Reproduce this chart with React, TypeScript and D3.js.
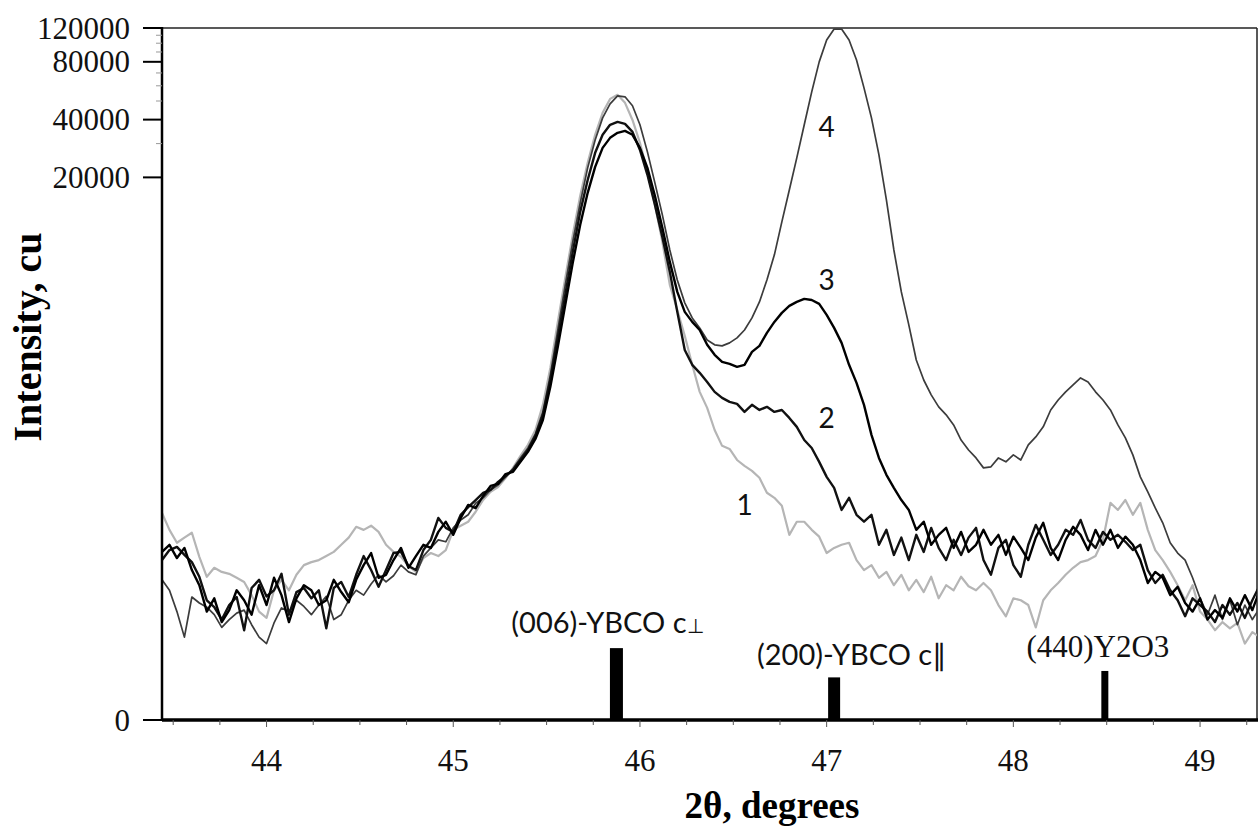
import * as d3 from "d3";

// XRD scan: 2θ starts at 43.44° with a 0.04° step
const SCAN_START = 43.44;
const SCAN_STEP = 0.04;

// intensities (counts), one value per scan step
const sample1 = [
  329, 263, 221, 237, 253, 182, 137, 156, 147, 143, 135, 127, 104, 80, 72, 112, 131, 112, 141, 162,
  169, 174, 184, 195, 215, 237, 274, 263, 278, 256, 215, 195, 182, 160, 147, 179, 192, 184, 200, 263,
  278, 293, 334, 389, 432, 460, 515,
  586, 681, 782, 940, 1281, 2012, 3513, 5974, 10031, 16028, 23814, 33337, 43393, 51285, 53865, 48924,
  39838, 30276, 21367, 14387, 9215, 5494, 4057, 2968, 2088, 1502, 1234, 940, 772,
  743, 647, 601, 564, 517, 427, 400, 361, 246, 293, 293, 263, 240, 192, 206, 215, 221, 174, 151, 162, 135,
  147, 121, 141, 112, 131, 109, 137, 99, 121, 112, 137, 119, 112, 125, 112, 89, 74, 99, 96, 89, 61, 96,
  112, 125, 141, 156, 169, 174, 184, 230, 375, 342, 389, 321, 375, 263, 200, 174, 147, 121, 96, 121, 80,
  70, 58, 67, 60, 66, 45, 56, 51,
];

const sample2 = [
  174, 200, 209, 187, 169, 137, 96, 86, 70, 89, 101, 58, 116, 131, 102, 112, 143, 76, 109, 116, 99,
  112, 60, 116, 127, 101, 141, 184, 151, 118, 151, 192, 195, 160, 151, 200, 230, 308, 270, 256, 321,
  355, 389, 426, 443, 491, 528,
  571, 647, 733, 874, 1133, 1736, 2896, 4870, 8170, 13217, 19389, 26853, 33337, 37586, 38937, 38036,
  34535, 27795, 20626, 14387, 9790, 6422, 3965, 2500, 2088, 1894, 1696, 1502, 1395,
  1329, 1297, 1175, 1281, 1203, 1250, 1175, 1203, 1091, 977, 830, 752, 632, 523, 455, 342, 400, 321,
  293, 321, 215,
  263, 187, 237, 174, 246, 195, 270, 206, 174, 230, 187, 237, 270, 174, 141, 206, 230, 162, 137, 215,
  281, 230, 187, 215, 263, 246, 300, 230, 206, 256, 230, 246, 224, 200, 215, 151, 125, 141, 112, 96,
  74, 99, 89, 80, 67, 89, 76, 92, 72, 96, 121,
];

const sample3 = [
  195, 215, 179, 206, 151, 121, 80, 99, 67, 82, 112, 96, 76, 121, 89, 135, 104, 67, 99, 121, 112, 89,
  96, 131, 109, 93, 131, 162, 192, 135, 141, 174, 206, 156, 184, 215, 206, 256, 293, 246, 308, 365,
  350, 410, 466, 478, 542,
  557, 632, 716, 841, 1063, 1597, 2597, 4317, 7160, 11312, 16612, 22698, 28504, 32138, 34135, 34935,
  33337, 28504, 22420, 16028, 10905, 7244, 5047, 3965, 3513, 3186, 2662, 2358, 2164,
  2113, 2037, 2088, 2443, 2629, 3077, 3513, 3918, 4265, 4473, 4636, 4577, 4369, 3826, 3268, 2726, 2088,
  1676, 1281, 885, 664,
  537, 455, 389, 342, 263, 293, 215, 246, 270, 206, 256, 195, 215, 263, 215, 246, 187, 240, 206, 174,
  237, 289, 206, 174, 230, 274, 246, 200, 263, 215, 263, 206, 240, 215, 174, 125, 147, 135, 104, 118,
  92, 80, 99, 70, 82, 72, 99, 80, 104, 82, 112,
];

const sample4 = [
  131, 112, 80, 51, 101, 92, 86, 76, 61, 70, 78, 82, 64, 51, 45, 66, 85, 80, 96, 87, 76, 89, 102, 70,
  76, 96, 112, 104, 123, 141, 127, 139, 162, 147, 141, 184, 206, 230, 224, 270, 300, 321, 373, 400,
  443, 472, 521,
  579, 664, 752, 896, 1175, 1849, 3186, 5494, 9215, 14732, 22420, 31339, 40853, 48351, 53220, 52575,
  47206, 37586, 27166, 18731, 12757, 8360, 5825, 4421, 3687, 3268, 2823, 2662, 2629,
  2726, 2896, 3186, 3687, 4473, 5825, 7886, 11719, 17196, 25280, 37586, 55800, 79952, 103950, 118500,
  118500, 103950, 81800, 58544, 40853, 26223,
  15250, 8360, 5047, 3390, 2215, 1736, 1448, 1250, 1133, 1001, 830, 733, 664, 586, 594, 664, 632, 690,
  647, 782, 863, 977, 1203, 1360, 1502, 1636, 1781, 1696, 1502, 1360, 1203, 1001, 852, 690, 523, 432,
  351, 289, 221, 192, 174, 135, 99, 76, 104, 70, 96, 64, 89, 70, 85,
];

const yTicks = [0, 20000, 40000, 80000, 120000];
const yMinorTicks = [30000, 50000, 60000, 70000, 90000, 100000, 110000];
const xTicks = [44, 45, 46, 47, 48, 49];

// reference reflections (stick markers)
const markerLabels = ["(006)-YBCO c", "(200)-YBCO c∥", "(440)Y2O3"];
const markerTheta = [45.874, 47.04, 48.49];
const markerHeight = [41, 20, 24];

// curve numbers
const curveNames = ["1", "2", "3", "4"];
const curveNameTheta = [46.56, 47.0, 47.0, 47.0];
const curveNameValue = [321, 964, 5164, 32500];

const serif = '"Liberation Serif", "Times New Roman", serif';
const sans = 'Lato, "Liberation Sans", Arial, sans-serif';

const left = 162, right = 1257, top = 28, bottom = 720;

export default function App() {
  const x = d3.scaleLinear().domain([43.44, 49.305]).range([left, right]);
  const y = d3.scaleSymlog().constant(30).domain([0, 120000]).range([bottom, top]);

  const line = d3
    .line<number>()
    .x((_, i) => x(SCAN_START + i * SCAN_STEP))
    .y((v) => y(v));

  const series = [
    { data: sample1, stroke: "#b5b5b5", width: 2.2 },
    { data: sample4, stroke: "#3c3c3c", width: 1.7 },
    { data: sample2, stroke: "#111", width: 2.4 },
    { data: sample3, stroke: "#000", width: 2.4 },
  ];

  const xMinor = d3.range(43.5, 49.3, 0.25).filter((t) => !Number.isInteger(t));

  // stick widths and label placement (px)
  const barW = [13, 12, 7];
  const labelDx = [-9, 18, -7];
  const labelGap = [15, 12, 14];

  return (
    <svg
      width={1260}
      height={828}
      style={{ position: "absolute", left: 0, top: 0, background: "#fff" }}
    >
      <defs>
        <clipPath id="plot">
          <rect x={left} y={top} width={right - left} height={bottom - top} />
        </clipPath>
      </defs>

      {/* frame */}
      <line x1={left} x2={right} y1={top} y2={top} stroke="#222" strokeWidth={1.5} />
      <line x1={right} x2={right} y1={top} y2={bottom} stroke="#222" strokeWidth={1.5} />

      {/* curves */}
      <g clipPath="url(#plot)">
        {series.map((s, i) => (
          <path
            key={i}
            d={line(s.data) || ""}
            fill="none"
            stroke={s.stroke}
            strokeWidth={s.width}
            strokeLinejoin="round"
          />
        ))}
      </g>

      {/* stick markers */}
      {markerTheta.map((t, i) => (
        <rect
          key={i}
          x={x(t) - barW[i] / 2}
          y={y(markerHeight[i])}
          width={barW[i]}
          height={bottom - y(markerHeight[i])}
          fill="#000"
        />
      ))}
      <text
        x={x(markerTheta[0]) + labelDx[0]}
        y={y(markerHeight[0]) - labelGap[0]}
        textAnchor="middle"
        fontFamily={sans}
        fontSize={29}
        fill="#111"
      >
        {markerLabels[0]}
        <tspan fontSize={20}>⊥</tspan>
      </text>
      <text
        x={x(markerTheta[1]) + labelDx[1]}
        y={y(markerHeight[1]) - labelGap[1]}
        textAnchor="middle"
        fontFamily={sans}
        fontSize={29}
        fill="#111"
      >
        {markerLabels[1]}
      </text>
      <text
        x={x(markerTheta[2]) + labelDx[2]}
        y={y(markerHeight[2]) - labelGap[2]}
        textAnchor="middle"
        fontFamily={serif}
        fontSize={31}
        fill="#111"
      >
        {markerLabels[2]}
      </text>

      {/* curve numbers */}
      {curveNames.map((n, i) => (
        <text
          key={n}
          x={x(curveNameTheta[i])}
          y={y(curveNameValue[i])}
          textAnchor="middle"
          fontFamily={sans}
          fontSize={28}
          fill="#111"
        >
          {n}
        </text>
      ))}

      {/* y axis */}
      <line x1={left} x2={left} y1={top - 1} y2={bottom} stroke="#000" strokeWidth={2.5} />
      {yMinorTicks.map((t) => (
        <line key={t} x1={left - 6} x2={left} y1={y(t)} y2={y(t)} stroke="#999" strokeWidth={1} />
      ))}
      {yTicks.map((t) => (
        <g key={t}>
          <line x1={left - 19} x2={left} y1={y(t)} y2={y(t)} stroke="#000" strokeWidth={2} />
          <text
            x={130}
            y={y(t)}
            dy="0.34em"
            textAnchor="end"
            fontFamily={serif}
            fontSize={31}
            fill="#111"
          >
            {t}
          </text>
        </g>
      ))}

      {/* x axis */}
      <line x1={left} x2={right + 1} y1={bottom} y2={bottom} stroke="#000" strokeWidth={3.5} />
      {xMinor.map((t) => (
        <line key={t} x1={x(t)} x2={x(t)} y1={bottom} y2={bottom + 5} stroke="#555" strokeWidth={1} />
      ))}
      {xTicks.map((t) => (
        <g key={t}>
          <line x1={x(t)} x2={x(t)} y1={bottom} y2={bottom + 7} stroke="#555" strokeWidth={1} />
          <text
            x={x(t)}
            y={771}
            textAnchor="middle"
            fontFamily={serif}
            fontSize={31}
            fill="#111"
          >
            {t}
          </text>
        </g>
      ))}

      {/* axis titles */}
      <text
        x={772}
        y={818}
        textAnchor="middle"
        fontFamily={serif}
        fontWeight="bold"
        fontSize={37}
        fill="#000"
      >
        2θ, degrees
      </text>
      <text
        transform="translate(41,337) rotate(-90)"
        textAnchor="middle"
        fontFamily={serif}
        fontWeight="bold"
        fontSize={40}
        fill="#000"
      >
        Intensity, cu
      </text>
    </svg>
  );
}
